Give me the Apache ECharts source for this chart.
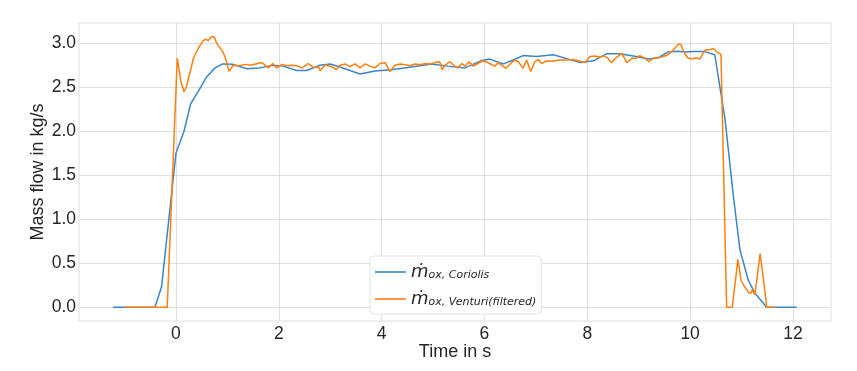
<!DOCTYPE html>
<html>
<head>
<meta charset="utf-8">
<script src="https://cdn.jsdelivr.net/npm/echarts@6/dist/echarts.min.js"></script>
<style>html,body{margin:0;padding:0;background:#fff;}#c{width:857px;height:371px;}</style>
</head>
<body>
<div id="c"></div>
<script>
// Coriolis mass flow (time in s, mass flow in kg/s)
const coriolisT = [-1.225,-0.41,-0.28,0.0,0.156,0.285,0.45,0.6,0.76,0.91,1.11,1.375,1.63,1.89,2.08,2.35,2.54,2.8,3.0,3.19,3.58,3.87,4.19,4.58,4.97,5.29,5.62,5.93,6.1,6.37,6.56,6.75,7.01,7.34,7.6,7.86,8.12,8.37,8.63,8.95,9.19,9.38,9.57,9.77,9.9,10.09,10.29,10.48,10.68,10.85,10.97,11.13,11.26,11.49,12.07];
const coriolisM = [0,0,0.234,1.75,2.0,2.31,2.47,2.62,2.72,2.765,2.76,2.71,2.72,2.75,2.74,2.69,2.69,2.75,2.765,2.73,2.65,2.685,2.70,2.73,2.765,2.74,2.72,2.80,2.82,2.765,2.81,2.86,2.85,2.87,2.825,2.78,2.80,2.88,2.88,2.85,2.82,2.835,2.90,2.91,2.90,2.905,2.905,2.87,2.13,1.22,0.65,0.31,0.16,0,0];

// Venturi (filtered) mass flow
const venturiT = [-0.99,-0.17,0.025,0.065,0.10,0.156,0.20,0.27,0.34,0.43,0.53,0.58,0.63,0.69,0.74,0.80,0.91,0.97,1.03,1.08,1.11,1.24,1.35,1.45,1.55,1.67,1.8,1.88,1.96,2.06,2.16,2.25,2.35,2.46,2.57,2.67,2.77,2.81,2.9,3.04,3.12,3.19,3.29,3.38,3.48,3.58,3.68,3.77,3.87,3.97,4.07,4.16,4.26,4.36,4.46,4.55,4.65,4.75,4.85,4.94,5.04,5.13,5.18,5.23,5.33,5.43,5.48,5.56,5.62,5.7,5.78,5.87,5.97,6.01,6.1,6.2,6.27,6.33,6.42,6.5,6.59,6.66,6.75,6.82,6.9,6.98,7.05,7.11,7.21,7.31,7.47,7.6,7.73,7.86,7.96,8.05,8.15,8.25,8.32,8.4,8.47,8.57,8.67,8.77,8.87,8.96,9.02,9.12,9.2,9.28,9.38,9.48,9.57,9.67,9.77,9.82,9.88,9.95,10.03,10.12,10.19,10.25,10.3,10.37,10.45,10.52,10.6,10.71,10.82,10.93,10.99,11.04,11.14,11.18,11.21,11.26,11.33,11.36,11.41,11.49,11.65];
const venturiM = [0,0,2.83,2.68,2.55,2.45,2.50,2.66,2.83,2.94,3.03,3.045,3.03,3.075,3.075,2.99,2.905,2.82,2.68,2.72,2.75,2.745,2.76,2.75,2.765,2.78,2.72,2.77,2.72,2.76,2.745,2.75,2.745,2.72,2.77,2.725,2.73,2.69,2.755,2.73,2.70,2.75,2.765,2.735,2.765,2.72,2.765,2.74,2.72,2.77,2.78,2.68,2.75,2.765,2.755,2.745,2.765,2.755,2.77,2.765,2.78,2.79,2.70,2.75,2.79,2.735,2.72,2.77,2.74,2.79,2.74,2.77,2.8,2.795,2.77,2.74,2.78,2.75,2.715,2.765,2.81,2.79,2.715,2.81,2.68,2.79,2.815,2.77,2.80,2.795,2.81,2.81,2.815,2.795,2.78,2.85,2.855,2.84,2.86,2.83,2.78,2.84,2.885,2.78,2.83,2.83,2.86,2.83,2.79,2.83,2.835,2.85,2.87,2.92,2.99,2.985,2.90,2.835,2.82,2.835,2.82,2.885,2.925,2.925,2.94,2.90,2.875,0,0,0.545,0.31,0.25,0.166,0.16,0.20,0.14,0.46,0.61,0.40,0,0];

const xTicks = [0,2,4,6,8,10,12];
const yTicks = [0,0.5,1.0,1.5,2.0,2.5,3.0];
const seriesNames = ['Coriolis','Venturi(filtered)'];

const pairs = (t, m) => t.map((v, i) => [v, m[i]]);
const txt = '#262626';
const gridC = '#dedede';
const blue = '#3a85c6';
const orange = '#ff7f0e';

const chart = echarts.init(document.getElementById('c'), null, {renderer: 'canvas'});
chart.setOption({
  animation: false,
  backgroundColor: '#ffffff',
  grid: {left: 79, top: 23, width: 752, height: 298, show: true, borderColor: gridC, borderWidth: 1, backgroundColor: 'transparent'},
  xAxis: {
    type: 'value', min: -1.886, max: 12.74,
    axisLine: {show: false}, axisTick: {show: false, customValues: xTicks},
    axisLabel: {customValues: xTicks, fontSize: 17.5, color: txt, fontFamily: 'Liberation Sans', margin: 4},
    splitLine: {show: true, lineStyle: {color: gridC, width: 1}},
    name: 'Time in s', nameLocation: 'middle', nameGap: 22, nameMoveOverlap: false,
    nameTextStyle: {fontSize: 18, color: txt, fontFamily: 'Liberation Sans'}
  },
  yAxis: {
    type: 'value', min: -0.156, max: 3.23,
    axisLine: {show: false}, axisTick: {show: false, customValues: yTicks},
    axisLabel: {customValues: yTicks, fontSize: 17.5, color: txt, fontFamily: 'Liberation Sans', margin: 3,
      formatter: v => v.toFixed(1)},
    splitLine: {show: true, lineStyle: {color: gridC, width: 1}},
    name: 'Mass flow in kg/s', nameLocation: 'middle', nameGap: 32, nameRotate: 90, nameMoveOverlap: false,
    nameTextStyle: {fontSize: 18, color: txt, fontFamily: 'Liberation Sans'}
  },
  legend: {
    orient: 'vertical', left: 370, top: 256,
    padding: [7, 5, 6, 5],
    icon: 'rect',
    itemWidth: 31, itemHeight: 1.6, itemGap: 9, itemTextGap: 12,
    backgroundColor: '#ffffff', borderColor: '#e2e2e2', borderWidth: 1, borderRadius: 4,
    data: seriesNames,
    formatter: n => '{m|ṁ}{s|ox, ' + n + '}',
    textStyle: {
      color: txt,
      rich: {
        m: {fontFamily: 'DejaVu Sans', fontStyle: 'italic', fontSize: 18, lineHeight: 18, verticalAlign: 'bottom', color: txt},
        s: {fontFamily: 'DejaVu Sans', fontStyle: 'italic', fontSize: 11, lineHeight: 12, verticalAlign: 'bottom', color: txt}
      }
    }
  },
  series: [
    {name: seriesNames[0], type: 'line', data: pairs(coriolisT, coriolisM), symbol: 'none',
     lineStyle: {color: blue, width: 1.5}, itemStyle: {color: blue}},
    {name: seriesNames[1], type: 'line', data: pairs(venturiT, venturiM), symbol: 'none',
     lineStyle: {color: orange, width: 1.5}, itemStyle: {color: orange}}
  ]
});
</script>
</body>
</html>
